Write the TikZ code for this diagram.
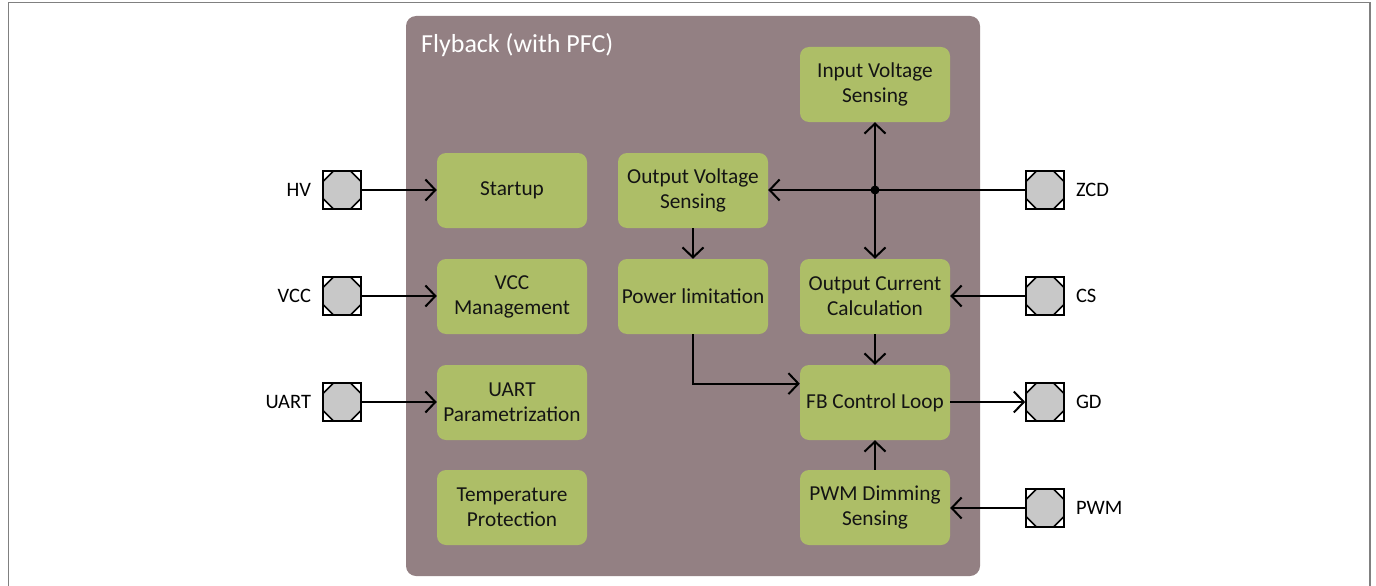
\documentclass[tikz,border=0pt]{standalone}
\usepackage{fontspec}
\setmainfont{Carlito}
\usetikzlibrary{arrows.meta,calc}
\definecolor{mauve}{RGB}{147,128,131}
\definecolor{leaf}{RGB}{173,190,103}
\definecolor{pingray}{RGB}{200,200,200}
\definecolor{frame}{RGB}{128,128,128}
\definecolor{ink}{RGB}{20,20,20}
\tikzset{
  blockbox/.style={fill=leaf, rounded corners=9pt, minimum width=150pt, minimum height=75pt,
    align=center, text=ink, inner sep=2pt, font=\fontsize{21.3}{25}\selectfont},
  pinbox/.style={draw=black, fill=white, line width=1.6pt, minimum size=38pt, inner sep=0pt,
    path picture={
      \coordinate (pnw) at (path picture bounding box.north west);
      \filldraw[fill=pingray, draw=black, line width=1.6pt]
        ($(pnw)+(10.5,0)$) -- ($(pnw)+(27.5,0)$) -- ($(pnw)+(38,10.5)$) -- ($(pnw)+(38,27.5)$)
        -- ($(pnw)+(27.5,38)$) -- ($(pnw)+(10.5,38)$) -- ($(pnw)+(0,27.5)$) -- ($(pnw)+(0,10.5)$) -- cycle;
    }},
  pinlabel/.style={inner sep=0pt, text=black, font=\fontsize{20.5}{25}\selectfont},
  wire/.style={line width=2pt, draw=black},
  arr/.style={wire, -{Straight Barb[length=10pt,width=21pt]}},
}
\begin{document}
\begin{tikzpicture}[x=1pt,y=-1pt]
\useasboundingbox (0,0) rectangle (1376,586);
% outer frame
\draw[frame, line width=1.6pt] (8.5,600) -- (8.5,2.5) -- (1370,2.5) -- (1370,600);
% container
\node[fill=mauve, rounded corners=10pt, minimum width=574pt, minimum height=560pt, inner sep=0pt] (fly) at (693,296) {};
\node[anchor=base west, inner sep=0pt, text=white, font=\fontsize{26}{30}\selectfont] (title) at (421,53) {Flyback (with PFC)};
% blocks
\node[blockbox] (startup) at (512,190.5) {Startup};
\node[blockbox] (vccm) at (512,296.5) {VCC\\Management};
\node[blockbox] (uartp) at (512,402.5) {UART\\Parametrization};
\node[blockbox] (temp) at (512,507.5) {Temperature\\Protection};
\node[blockbox] (ovs) at (693,190.5) {Output Voltage\\Sensing};
\node[blockbox] (plim) at (693,296.5) {Power limitation};
\node[blockbox] (ivs) at (875,84.5) {Input Voltage\\Sensing};
\node[blockbox] (occ) at (875,296.5) {Output Current\\Calculation};
\node[blockbox] (fbl) at (875,402.5) {FB Control Loop};
\node[blockbox] (pwmd) at (875,507.5) {PWM Dimming\\Sensing};
% pins
\node[pinbox] (hv) at (342,190) {};
\node[pinbox] (vcc) at (342,296) {};
\node[pinbox] (uart) at (342,402) {};
\node[pinbox] (zcd) at (1045,190) {};
\node[pinbox] (cs) at (1045,296) {};
\node[pinbox] (gd) at (1045,402) {};
\node[pinbox] (pwm) at (1045,508) {};
% pin labels
\node[pinlabel, anchor=east] (hvl) at ($(hv.west)+(-11,0)$) {HV};
\node[pinlabel, anchor=east] (vccl) at ($(vcc.west)+(-11,0)$) {VCC};
\node[pinlabel, anchor=east] (uartl) at ($(uart.west)+(-11,0)$) {UART};
\node[pinlabel, anchor=west] (zcdl) at ($(zcd.east)+(11,0)$) {ZCD};
\node[pinlabel, anchor=west] (csl) at ($(cs.east)+(11,0)$) {CS};
\node[pinlabel, anchor=west] (gdl) at ($(gd.east)+(11,0)$) {GD};
\node[pinlabel, anchor=west] (pwml) at ($(pwm.east)+(11,0)$) {PWM};
% connectors
\draw[arr] (hv.east) -- (startup.west |- hv.east);
\draw[arr] (vcc.east) -- (vccm.west |- vcc.east);
\draw[arr] (uart.east) -- (uartp.west |- uart.east);
\coordinate (jct) at (occ.north |- zcd.west);
\draw[wire] (zcd.west) -- (jct);
\draw[arr] (jct) -- (ovs.east |- jct);
\draw[arr] (jct) -- (ivs.south);
\draw[arr] (jct) -- (occ.north);
\fill[black] (jct) circle (4.5pt);
\draw[arr] (ovs.south) -- (plim.north);
\coordinate (fbin) at ($(fbl.north west)!0.25!(fbl.south west)$);
\draw[arr] (plim.south) |- (fbin);
\draw[arr] (occ.south) -- (fbl.north);
\draw[arr] (pwmd.north) -- (fbl.south);
\draw[arr] (cs.west) -- (occ.east |- cs.west);
\draw[arr] (fbl.east |- gd.west) -- (gd.west);
\draw[arr] (pwm.west) -- (pwmd.east |- pwm.west);
\end{tikzpicture}
\end{document}
